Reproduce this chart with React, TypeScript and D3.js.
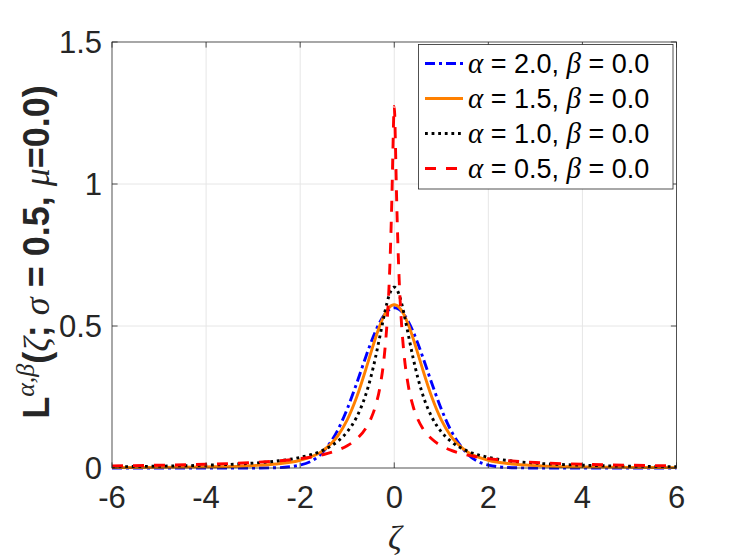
import * as d3 from "d3";

// sample points (zeta) and the four density curves
const zeta = [
  -6, -5, -4, -3, -2.5, -2, -1.5, -1.2, -1, -0.8, -0.6, -0.5, -0.4, -0.3, -0.2,
  -0.15, -0.1, -0.05, -0.025, -0.01, 0, 0.01, 0.025, 0.05, 0.1, 0.15, 0.2, 0.3,
  0.4, 0.5, 0.6, 0.8, 1, 1.2, 1.5, 2, 2.5, 3, 4, 5, 6,
];

const alpha20 = [
  0, 0, 0, 0.0001, 0.0011, 0.0103, 0.0595, 0.1337, 0.2076, 0.2975, 0.3936,
  0.4394, 0.4808, 0.5156, 0.5421, 0.5516, 0.5586, 0.5628, 0.5638, 0.5641,
  0.5642, 0.5641, 0.5638, 0.5628, 0.5586, 0.5516, 0.5421, 0.5156, 0.4808,
  0.4394, 0.3936, 0.2975, 0.2076, 0.1337, 0.0595, 0.0103, 0.0011, 0.0001, 0, 0,
  0,
];

const alpha15 = [
  0.0013, 0.0021, 0.0038, 0.0084, 0.0142, 0.0273, 0.0629, 0.1131, 0.1691,
  0.2487, 0.3497, 0.4041, 0.4569, 0.5043, 0.542, 0.556, 0.5663, 0.5726, 0.5742,
  0.5746, 0.5747, 0.5746, 0.5742, 0.5726, 0.5663, 0.556, 0.542, 0.5043, 0.4569,
  0.4041, 0.3497, 0.2487, 0.1691, 0.1131, 0.0629, 0.0273, 0.0142, 0.0084,
  0.0038, 0.0021, 0.0013,
];

const alpha10 = [
  0.0044, 0.0063, 0.0098, 0.0172, 0.0245, 0.0375, 0.0637, 0.0942, 0.1273,
  0.1788, 0.2609, 0.3183, 0.3882, 0.4681, 0.5488, 0.5841, 0.6121, 0.6303,
  0.635, 0.6364, 0.6366, 0.6364, 0.635, 0.6303, 0.6121, 0.5841, 0.5488, 0.4681,
  0.3882, 0.3183, 0.2609, 0.1788, 0.1273, 0.0942, 0.0637, 0.0375, 0.0245,
  0.0172, 0.0098, 0.0063, 0.0044,
];

const alpha05 = [
  0.0076, 0.0098, 0.0132, 0.0194, 0.0247, 0.033, 0.0476, 0.0628, 0.0783,
  0.1019, 0.1412, 0.1722, 0.2175, 0.2886, 0.4142, 0.5196, 0.6825, 0.9529,
  1.1419, 1.2453, 1.2732, 1.2453, 1.1419, 0.9529, 0.6825, 0.5196, 0.4142,
  0.2886, 0.2175, 0.1722, 0.1412, 0.1019, 0.0783, 0.0628, 0.0476, 0.033,
  0.0247, 0.0194, 0.0132, 0.0098, 0.0076,
];

const alphaLabels = ["2.0", "1.5", "1.0", "0.5"];
const xTicks = [-6, -4, -2, 0, 2, 4, 6];
const yTicks = [0, 0.5, 1, 1.5];

const series = [
  { a: alphaLabels[0], values: alpha20, color: "#0000ff", dash: "10,4,3,4" },
  { a: alphaLabels[1], values: alpha15, color: "#ff8000", dash: "" },
  { a: alphaLabels[2], values: alpha10, color: "#000000", dash: "2.8,3.8" },
  { a: alphaLabels[3], values: alpha05, color: "#ff0000", dash: "11,10" },
];

const W = 747;
const H = 560;
const left = 112;
const right = 676.5;
const top = 42;
const bottom = 468;

const sans = "'Liberation Sans', Arial, Helvetica, sans-serif";
const serif = "'Liberation Serif', 'Times New Roman', serif";

export default function App() {
  const x = d3.scaleLinear().domain([-6, 6]).range([left, right]);
  const y = d3.scaleLinear().domain([0, 1.5]).range([bottom, top]);

  const line = (vals: number[]) =>
    d3
      .line<number>()
      .x((_, i) => x(zeta[i]))
      .y((d) => y(d))
      .curve(d3.curveMonotoneX)(vals) ?? "";

  const tick = 5.6;
  const lgX = 418.5;
  const lgY = 44.5;
  const rowH = 35;

  return (
    <svg
      width={W}
      height={H}
      style={{ position: "absolute", left: 0, top: 0, background: "#fff" }}
    >
      <rect x={0} y={0} width={W} height={H} fill="#fff" />
      {/* grid */}
      {xTicks.slice(1, -1).map((t) => (
        <line
          key={"gx" + t}
          x1={x(t)}
          x2={x(t)}
          y1={top}
          y2={bottom}
          stroke="#e6e6e6"
          strokeWidth={1}
        />
      ))}
      {yTicks.slice(1, -1).map((t) => (
        <line
          key={"gy" + t}
          x1={left}
          x2={right}
          y1={y(t)}
          y2={y(t)}
          stroke="#e6e6e6"
          strokeWidth={1}
        />
      ))}

      {/* curves */}
      {series.map((s) => (
        <path
          key={s.a}
          d={line(s.values)}
          fill="none"
          stroke={s.color}
          strokeWidth={2.9}
          strokeDasharray={s.dash || undefined}
          strokeLinejoin="round"
        />
      ))}

      {/* box + ticks */}
      <rect
        x={left}
        y={top}
        width={right - left}
        height={bottom - top}
        fill="none"
        stroke="#262626"
        strokeWidth={0.8}
      />
      {xTicks.map((t) => (
        <g key={"tx" + t}>
          <line x1={x(t)} x2={x(t)} y1={bottom} y2={bottom - tick} stroke="#262626" strokeWidth={0.8} />
          <line x1={x(t)} x2={x(t)} y1={top} y2={top + tick} stroke="#262626" strokeWidth={0.8} />
          <text
            x={x(t)}
            y={508}
            textAnchor="middle"
            fontFamily={sans}
            fontSize={31}
            fill="#262626"
          >
            {t}
          </text>
        </g>
      ))}
      {yTicks.map((t) => (
        <g key={"ty" + t}>
          <line x1={left} x2={left + tick} y1={y(t)} y2={y(t)} stroke="#262626" strokeWidth={0.8} />
          <line x1={right} x2={right - tick} y1={y(t)} y2={y(t)} stroke="#262626" strokeWidth={0.8} />
          <text
            x={102}
            y={y(t) + 11}
            textAnchor="end"
            fontFamily={sans}
            fontSize={31}
            fill="#262626"
          >
            {t}
          </text>
        </g>
      ))}

      {/* axis labels */}
      <text
        x={395}
        y={549}
        textAnchor="middle"
        fontFamily={serif}
        fontStyle="italic"
        fontSize={34}
        fill="#262626"
      >
        ζ
      </text>
      <text
        transform="translate(49,252) rotate(-90)"
        textAnchor="middle"
        fontFamily={sans}
        fontWeight="bold"
        fontSize={36}
        fill="#262626"
      >
        <tspan>L</tspan>
        <tspan fontFamily={serif} fontStyle="italic" fontWeight="normal" fontSize={26} dy={-15}>
          α,β
        </tspan>
        <tspan dy={15}>(</tspan>
        <tspan fontFamily={serif} fontStyle="italic" fontWeight="normal">ζ</tspan>
        <tspan>; </tspan>
        <tspan fontFamily={serif} fontStyle="italic" fontWeight="normal">σ</tspan>
        <tspan> = 0.5, </tspan>
        <tspan fontFamily={serif} fontStyle="italic" fontWeight="normal">μ</tspan>
        <tspan>=0.0)</tspan>
      </text>

      {/* legend */}
      <rect
        x={lgX}
        y={lgY}
        width={254.5}
        height={144.5}
        fill="#fff"
        stroke="#262626"
        strokeWidth={0.8}
      />
      {series.map((s, i) => {
        const cy = lgY + 19 + i * rowH;
        return (
          <g key={"lg" + s.a}>
            <line
              x1={425}
              x2={463}
              y1={cy}
              y2={cy}
              stroke={s.color}
              strokeWidth={2.9}
              strokeDasharray={s.dash || undefined}
            />
            <text x={468} y={cy + 9.5} fontFamily={sans} fontSize={27} fill="#000">
              <tspan fontFamily={serif} fontStyle="italic" fontSize={29}>α</tspan>
              <tspan> = {s.a}, </tspan>
              <tspan fontFamily={serif} fontStyle="italic" fontSize={29}>β</tspan>
              <tspan> = 0.0</tspan>
            </text>
          </g>
        );
      })}
    </svg>
  );
}
